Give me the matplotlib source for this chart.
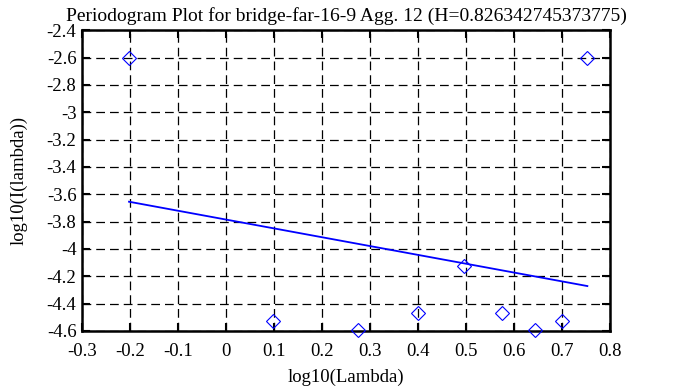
import matplotlib
matplotlib.use("Agg")
import matplotlib.pyplot as plt
import numpy as np

plt.rcParams['font.family'] = ['Liberation Serif', 'DejaVu Serif']

# periodogram points
log_lambda = [-0.202, 0.099, 0.275, 0.400, 0.497, 0.576, 0.643, 0.701, 0.753]
log_I = [-2.600, -4.528, -4.592, -4.472, -4.125, -4.472, -4.592, -4.528, -2.600]

# least squares fit line
fit_x = [-0.202, 0.753]
fit_y = [-3.655, -4.272]

title = "Periodogram Plot for bridge-far-16-9 Agg. 12 (H=0.826342745373775)"

fig = plt.figure(figsize=(6.83, 3.87), dpi=100)
ax = fig.add_axes([0.12, 0.145, 0.773, 0.777])

ax.plot(log_lambda, log_I, linestyle='none', marker='D', ms=7,
        mfc='none', mec='blue', mew=0.8, clip_on=False, zorder=5)
ax.plot(fit_x, fit_y, color='blue', lw=1.3)

ax.set_xlim(-0.3, 0.8)
ax.set_ylim(-4.6, -2.4)
ax.set_xticks(np.round(np.arange(-0.3, 0.81, 0.1), 1))
ax.set_yticks(np.round(np.arange(-4.6, -2.39, 0.2), 1))
ax.set_xticklabels(["-0.3", "-0.2", "-0.1", "0", "0.1", "0.2", "0.3", "0.4", "0.5", "0.6", "0.7", "0.8"])
ax.set_yticklabels(["-4.6", "-4.4", "-4.2", "-4", "-3.8", "-3.6", "-3.4", "-3.2", "-3", "-2.8", "-2.6", "-2.4"])
ax.grid(True, color='black', linestyle=(0, (7, 4)), lw=0.9)
ax.tick_params(direction='in', length=6, width=1.5, top=True, right=True, labelsize=13.5)
ax.tick_params(axis='x', pad=9)
ax.tick_params(axis='y', pad=4)
for s in ax.spines.values():
    s.set_linewidth(1.8)

ax.set_xlabel("log10(Lambda)", fontsize=13.5, labelpad=6)
ax.set_ylabel("log10(I(lambda))", fontsize=13.5, labelpad=14)
ax.set_title(title, fontsize=14, pad=7)

fig.savefig("out.png", dpi=100)
